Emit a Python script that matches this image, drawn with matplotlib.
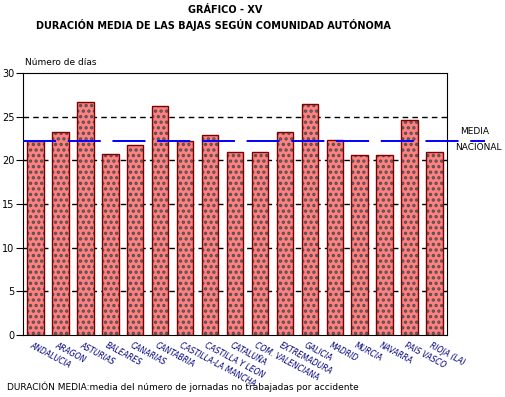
import matplotlib.pyplot as plt
from matplotlib.lines import Line2D

regiones = ['ANDALUCIA', 'ARAGON', 'ASTURIAS', 'BALEARES', 'CANARIAS', 'CANTABRIA',
            'CASTILLA-LA MANCHA', 'CASTILLA Y LEON', 'CATALUÑA', 'COM. VALENCIANA',
            'EXTREMADURA', 'GALICIA', 'MADRID', 'MURCIA', 'NAVARRA', 'PAIS VASCO', 'RIOJA (LA)']
dias = [22.2, 23.3, 26.7, 20.7, 21.7, 26.2, 22.2, 22.9, 20.9, 20.9,
        23.2, 26.5, 22.3, 20.6, 20.6, 24.6, 20.9]
media_nacional = 22.2
yticks = [0, 5, 10, 15, 20, 25, 30]

plt.rcParams['font.family'] = 'DejaVu Sans'
plt.rcParams['hatch.linewidth'] = 1.6

fig = plt.figure(figsize=(5.05, 3.97), dpi=100)
ax = fig.add_axes([23 / 505, 62 / 397, 424 / 505, 262 / 397])

x = range(len(regiones))
for y in yticks[1:-1]:
    ax.axhline(y, color='black', lw=1, ls=(0, (4, 3)), zorder=1)

ax.bar(x, dias, width=0.66, color='#ff8080', edgecolor='none', zorder=2)
ax.bar(x, dias, width=0.66, color='none', edgecolor='#505050', hatch='...', lw=0, zorder=3)
ax.bar(x, dias, width=0.66, color='none', edgecolor='#800000', lw=1.0, zorder=4)

ax.add_line(Line2D([0, 462 / 424], [media_nacional, media_nacional], color='blue', lw=1.4,
                   ls=(0, (17, 6)), transform=ax.get_yaxis_transform(), clip_on=False, zorder=5))
fig.text(460 / 505, 1 - 132 / 397, 'MEDIA', fontsize=6.5, va='center')
fig.text(455 / 505, 1 - 148 / 397, 'NACIONAL', fontsize=6.5, va='center')

ax.set_xlim(-0.5, len(regiones) - 0.5)
ax.set_ylim(0, 30)
ax.set_yticks(yticks)
ax.tick_params(axis='y', labelsize=7, length=5, pad=1)
ax.set_xticks([])
for i, r in enumerate(regiones):
    ax.text(i - 0.1, -0.7, r, rotation=-28, rotation_mode='anchor', ha='left', va='top',
            fontsize=5.5, color='#000080', style='italic')

fig.text(25 / 505, 1 - 67 / 397, 'Número de días', fontsize=6.5, va='bottom')
fig.text(225 / 505, 1 - 10 / 397, 'GRÁFICO - XV', fontsize=7, fontweight='bold', ha='center', va='center')
fig.text(213 / 505, 1 - 25 / 397, 'DURACIÓN MEDIA DE LAS BAJAS SEGÚN COMUNIDAD AUTÓNOMA',
         fontsize=7, fontweight='bold', ha='center', va='center')
fig.text(7 / 505, 1 - 387 / 397,
         'DURACIÓN MEDIA:media del número de jornadas no trabajadas por accidente',
         fontsize=6.5, va='center')

fig.savefig('out.png', dpi=100)
